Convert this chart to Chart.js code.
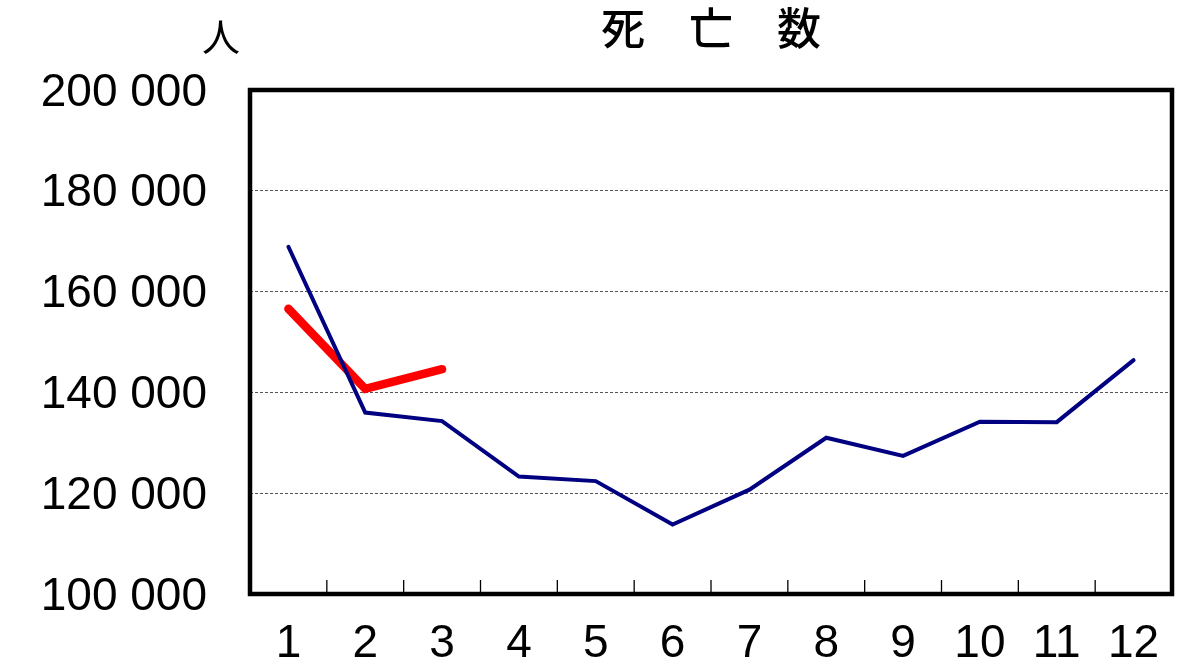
<!DOCTYPE html>
<html>
<head>
<meta charset="utf-8">
<script src="https://cdn.jsdelivr.net/npm/chart.js@4"></script>
<style>
  html, body { margin: 0; padding: 0; background: #fff; }
  #wrap { width: 1200px; height: 671px; }
</style>
</head>
<body>
<div id="wrap"><canvas id="deathChart"></canvas></div>
<script>
// --- DATA ---
const months = ['1', '2', '3', '4', '5', '6', '7', '8', '9', '10', '11', '12'];
const lastYear = [168900, 136000, 134300, 123300, 122400, 113800, 120700, 131000, 127400, 134200, 134100, 146400];
const thisYear = [156600, 140700, 144600];
const yTicks = [100000, 120000, 140000, 160000, 180000, 200000];
const titleText = '死　亡　数';
const unitText = '人';

const NUM_FONT = "'Liberation Sans', Arial, sans-serif";
const JP_FONT = "'Noto Sans CJK JP', sans-serif";

function fmt(v) { return String(v).replace(/\B(?=(\d{3})+(?!\d))/g, ' '); }

// frame, inner ticks, title and unit label
const framePlugin = {
  id: 'frame',
  afterDraw(chart) {
    const { ctx, chartArea: a, scales: { x } } = chart;
    ctx.save();
    ctx.strokeStyle = '#000';
    ctx.lineWidth = 1.3;
    for (let i = 0; i < months.length - 1; i++) {
      let px = (x.getPixelForValue(i) + x.getPixelForValue(i + 1)) / 2;
      ctx.beginPath(); ctx.moveTo(px, a.bottom); ctx.lineTo(px, a.bottom - 14); ctx.stroke();
    }
    ctx.lineWidth = 4.5;
    ctx.strokeRect(a.left, a.top, a.right - a.left, a.bottom - a.top);

    ctx.fillStyle = '#000';
    ctx.textAlign = 'center';
    ctx.textBaseline = 'middle';
    ctx.font = '500 44px ' + JP_FONT;
    ctx.fillText(titleText, (a.left + a.right) / 2, 28);
    ctx.font = '38px ' + JP_FONT;
    ctx.fillText(unitText, a.left - 29, 37);
    ctx.restore();
  }
};

new Chart(document.getElementById('deathChart'), {
  type: 'line',
  data: {
    labels: months,
    datasets: [
      { label: 'prev', data: lastYear, borderColor: '#000080', borderWidth: 4, borderCapStyle: 'round', pointRadius: 0, tension: 0 },
      { label: 'curr', data: thisYear, borderColor: '#ff0000', borderWidth: 8.5, borderCapStyle: 'round', pointRadius: 0, tension: 0 }
    ]
  },
  options: {
    responsive: true,
    maintainAspectRatio: false,
    animation: false,
    layout: { padding: { left: 0, right: 28, top: 90, bottom: 0 } },
    plugins: {
      legend: { display: false },
      tooltip: { enabled: false }
    },
    scales: {
      x: {
        offset: true,
        grid: { display: false },
        border: { display: false },
        afterFit: axis => { axis.height = 77; },
        ticks: { color: '#000', font: { family: NUM_FONT, size: 46 }, padding: 15, maxRotation: 0, autoSkip: false }
      },
      y: {
        min: 100000,
        max: 200000,
        afterBuildTicks: axis => { axis.ticks = yTicks.map(v => ({ value: v })); },
        afterFit: axis => { axis.width = 250; },
        grid: {
          color: ctx => (ctx.tick && (ctx.tick.value === 100000 || ctx.tick.value === 200000)) ? 'rgba(0,0,0,0)' : '#555',
          lineWidth: 1,
          drawTicks: false
        },
        border: { display: false, dash: [3, 2] },
        ticks: { color: '#000', font: { family: NUM_FONT, size: 46 }, padding: 43, labelOffset: 3, callback: v => fmt(v) }
      }
    }
  },
  plugins: [framePlugin]
});
</script>
</body>
</html>
